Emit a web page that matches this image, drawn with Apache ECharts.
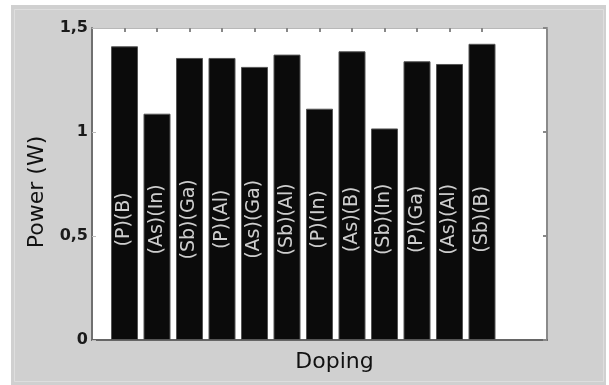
<!DOCTYPE html>
<html>
<head>
<meta charset="utf-8">
<script src="https://cdn.jsdelivr.net/npm/echarts@6/dist/echarts.min.js"></script>
<style>
  html, body { margin: 0; padding: 0; background: #ffffff; }
  #chart { width: 609px; height: 385px; }
</style>
</head>
<body>
<div id="chart"></div>
<script>
// Dopant pairs, one bar each
const categories = ['(P)(B)', '(As)(In)', '(Sb)(Ga)', '(P)(Al)', '(As)(Ga)', '(Sb)(Al)',
                    '(P)(In)', '(As)(B)', '(Sb)(In)', '(P)(Ga)', '(As)(Al)', '(Sb)(B)'];
// Output power in watts
const power = [1.412, 1.088, 1.356, 1.356, 1.313, 1.372, 1.112, 1.388, 1.017, 1.340, 1.327, 1.424];
// Height (in W) at which the pair names are written across the bars
const labelLevel = 0.58;
// Y tick values
const yTicks = [0, 0.5, 1, 1.5];
const xMin = 0, xMax = 14;

const positions = categories.map((_, i) => i + 1);
// slots along the top edge, one per unit of the x range
const topSlots = Array.from({ length: xMax - xMin + 1 }, (_, i) => String(xMin + i));
const fmt = v => String(v).replace('.', ',');
const font = 'DejaVu Sans';

const chart = echarts.init(document.getElementById('chart'), null, { renderer: 'canvas' });

chart.setOption({
  animation: false,
  backgroundColor: '#ffffff',
  graphic: [
    { type: 'rect', shape: { x: 11, y: 5, width: 595, height: 380 },
      style: { fill: '#d0d0d0' }, z: -10 },
    { type: 'rect', shape: { x: 14.5, y: 9.5, width: 589, height: 372 },
      style: { fill: 'none', stroke: '#dedede', lineWidth: 1 }, z: -9 }
  ],
  grid: {
    left: 92, right: 62, top: 28, bottom: 45,
    show: true, backgroundColor: '#ffffff', borderWidth: 0
  },
  xAxis: [
    {
      type: 'value', gridIndex: 0, position: 'bottom', min: xMin, max: xMax,
      axisLine: { show: true, onZero: false, lineStyle: { color: '#666', width: 2 } },
      axisTick: { show: false }, axisLabel: { show: false }, splitLine: { show: false },
      name: 'Doping', nameLocation: 'middle', nameGap: 11,
      nameTextStyle: { fontFamily: font, fontSize: 22, color: '#111', padding: [0, 0, 0, 30] }
    },
    {
      type: 'category', gridIndex: 0, position: 'top', data: topSlots, boundaryGap: false,
      axisLine: { show: true, onZero: false, lineStyle: { color: '#b8b8b8', width: 1 } },
      axisTick: { show: true, inside: true, length: 4,
                  interval: idx => idx >= positions[0] && idx <= positions[positions.length - 1],
                  lineStyle: { color: '#888', width: 2 } },
      axisLabel: { show: false }, splitLine: { show: false }
    }
  ],
  yAxis: [
    {
      type: 'value', position: 'left', min: yTicks[0], max: yTicks[yTicks.length - 1], interval: 0.5,
      axisLine: { show: true, onZero: false, lineStyle: { color: '#707070', width: 2 } },
      axisTick: { show: true, inside: true, length: 4, lineStyle: { color: '#bbb' } },
      axisLabel: { show: true, formatter: fmt, fontFamily: font, fontSize: 16, fontWeight: 'bold',
                   color: '#1a1a1a', margin: 4 },
      splitLine: { show: false },
      name: 'Power (W)', nameLocation: 'middle', nameGap: 44, nameRotate: 90,
      nameTextStyle: { fontFamily: font, fontSize: 22, color: '#111', padding: [0, 16, 0, 0] }
    },
    {
      type: 'value', position: 'right', min: yTicks[0], max: yTicks[yTicks.length - 1], interval: 0.5,
      axisLine: { show: true, onZero: false, lineStyle: { color: '#8a8a8a', width: 2 } },
      axisTick: { show: true, inside: true, length: 4, lineStyle: { color: '#888', width: 2 } },
      axisLabel: { show: false }, splitLine: { show: false }
    }
  ],
  series: [
    {
      type: 'bar',
      xAxisIndex: 0, yAxisIndex: 0,
      barWidth: 27,
      data: power.map((v, i) => [positions[i], v]),
      itemStyle: { color: '#0b0b0b', borderColor: '#555', borderWidth: 1 },
      z: 2
    },
    {
      type: 'scatter',
      xAxisIndex: 0, yAxisIndex: 0,
      symbolSize: 0,
      data: positions.map(p => [p, labelLevel]),
      label: {
        show: true, position: 'inside', rotate: 90,
        formatter: p => categories[p.dataIndex],
        color: '#ffffff', fontFamily: font, fontSize: 19
      },
      z: 5
    }
  ]
});
</script>
</body>
</html>
